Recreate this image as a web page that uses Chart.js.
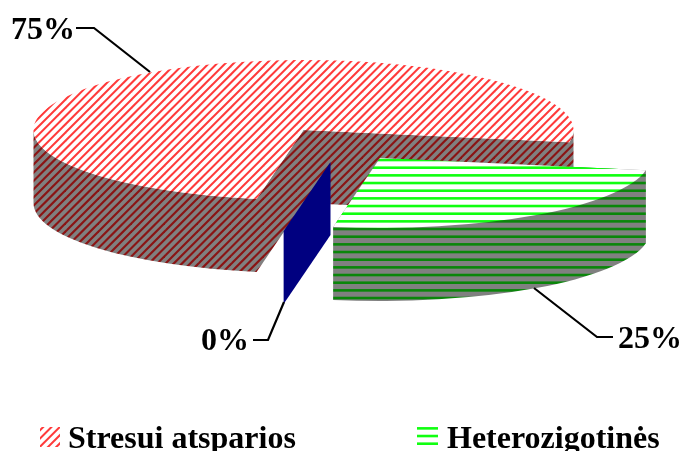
<!DOCTYPE html>
<html><head><meta charset="utf-8">
<style>html,body{margin:0;padding:0;background:#fff;overflow:hidden}canvas{display:block}</style>
<script src="https://cdn.jsdelivr.net/npm/chart.js@4"></script>
</head><body><canvas id="c" width="681" height="451"></canvas>
<script>
const categories = ["Stresui atsparios", "Heterozigotinės", ""];
const values = [75, 25, 0];
const percentLabels = ["75%", "25%", "0%"];

const CX = 303.5, CY = 130, RX = 270, RY = 70, DEPTH = 73;
const EXPLODE = [[0,0],[76.5,28],[27,32]];
const FONT = 'bold 32px "Liberation Serif", "Times New Roman", serif';

function diagPattern(ctx, bg, fg, w){
  const n = 33, t = document.createElement('canvas');
  t.width = n; t.height = n;
  const g = t.getContext('2d');
  g.fillStyle = bg; g.fillRect(0,0,n,n);
  g.strokeStyle = fg; g.lineWidth = w;
  for(let i=-n;i<=2*n;i+=n/4){ g.beginPath(); g.moveTo(i-4,n+4); g.lineTo(i+n+4,-4); g.stroke(); }
  return ctx.createPattern(t,'repeat');
}
function flatPattern(ctx, bg, fg, h){
  const n = 23, t = document.createElement('canvas');
  t.width = n; t.height = n;
  const g = t.getContext('2d');
  g.fillStyle = bg; g.fillRect(0,0,n,n);
  g.fillStyle = fg;
  for(let k=-1;k<3;k++){ g.fillRect(0,6.7+k*n/3-h/2,n,h); }
  return ctx.createPattern(t,'repeat');
}

const ctx0 = document.getElementById('c').getContext('2d');
const fills = [
  {face: diagPattern(ctx0,'#ffffff','#ff3a3a',2.0), side: diagPattern(ctx0,'#808080','#8a1414',2.2)},
  {face: flatPattern(ctx0,'#ffffff','#10ff10',2.6), side: flatPattern(ctx0,'#808080','#0a860a',2.6)},
  {face: '#000080', side: '#000080'}
];

function wallOuter(P,cx,cy,a0,a1){
  P.moveTo(cx+RX*Math.cos(a0),cy+RY*Math.sin(a0));
  P.ellipse(cx,cy,RX,RY,0,a0,a1,false);
  P.ellipse(cx,cy+DEPTH,RX,RY,0,a1,a0,true);
  P.closePath();
}
function wallRadial(P,cx,cy,a){
  const x=cx+RX*Math.cos(a), y=cy+RY*Math.sin(a);
  // all wall pieces wind the same way so that their union fills without seams
  if(Math.cos(a)<0){
    P.moveTo(cx,cy); P.lineTo(x,y); P.lineTo(x,y+DEPTH); P.lineTo(cx,cy+DEPTH);
  } else {
    P.moveTo(cx,cy); P.lineTo(cx,cy+DEPTH); P.lineTo(x,y+DEPTH); P.lineTo(x,y);
  }
  P.closePath();
}
function faceTop(c,cx,cy,a0,a1,f){
  c.beginPath(); c.moveTo(cx,cy); c.ellipse(cx,cy,RX,RY,0,a0,a1,false); c.closePath();
  c.fillStyle=f; c.fill();
}
function leader(c,pts){
  c.beginPath(); pts.forEach((p,i)=>i?c.lineTo(p[0],p[1]):c.moveTo(p[0],p[1]));
  c.strokeStyle='#000'; c.lineWidth=2.2; c.lineJoin='miter'; c.stroke();
}

const pie3d = {
  id:'pie3d',
  beforeDatasetsDraw(chart){
    const c = chart.ctx, arcs = chart.getDatasetMeta(0).data;
    const TAU = Math.PI*2;
    c.save();
    arcs.forEach((el,i)=>{
      const p = el.getProps(['startAngle','endAngle']);
      const a0 = p.startAngle, a1 = p.endAngle;
      const cx = CX+EXPLODE[i][0], cy = CY+EXPLODE[i][1], f = fills[i];
      const P = new Path2D();
      wallRadial(P,cx,cy,a0);
      if(a1-a0 > 1e-6){
        wallRadial(P,cx,cy,a1);
        // visible part of the outer wall: lower half of the ellipse only
        for(let k=-1;k<=2;k++){
          const lo=Math.max(a0,k*TAU), hi=Math.min(a1,k*TAU+Math.PI);
          if(hi>lo) wallOuter(P,cx,cy,lo,hi);
        }
      }
      c.fillStyle=f.side; c.fill(P,'nonzero');
      if(a1-a0 > 1e-6) faceTop(c,cx,cy,a0,a1,f.face);
    });
    leader(c,[[76,28],[94,28],[150,72]]);
    leader(c,[[534,288],[597,337],[613,337]]);
    leader(c,[[284,302],[268,340],[253,340]]);
    c.fillStyle='#000'; c.font=FONT; c.textBaseline='alphabetic'; c.textAlign='left';
    c.fillText(percentLabels[0],11,39);
    c.fillText(percentLabels[1],618,348);
    c.fillText(percentLabels[2],201,350);
    // legend
    c.fillStyle=fills[0].face; c.fillRect(40,427,20,20);
    c.fillStyle=fills[1].face; c.fillRect(417,427,21,20);
    c.fillStyle='#000';
    c.fillText(categories[0],68,448);
    c.fillText(categories[1],447,448);
    c.restore();
    return false;
  }
};

new Chart(ctx0,{
  type:'pie',
  data:{labels:categories,datasets:[{data:values,backgroundColor:'rgba(0,0,0,0)',borderWidth:0}]},
  options:{responsive:false,animation:false,rotation:190,
    plugins:{legend:{display:false},tooltip:{enabled:false}}},
  plugins:[pie3d]
});
</script></body></html>
